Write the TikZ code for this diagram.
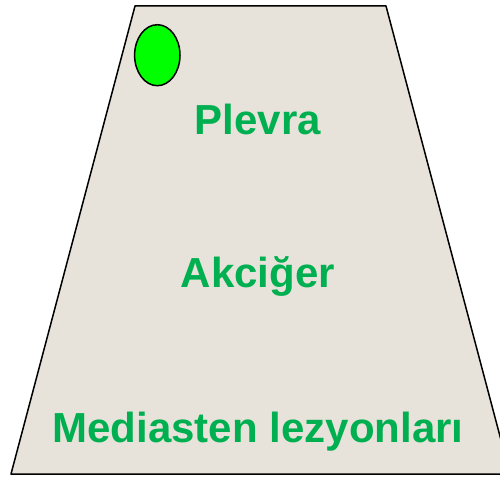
\documentclass[tikz,border=0pt]{standalone}
\usepackage{fontspec}
\setmainfont{Liberation Sans}
\definecolor{paper}{RGB}{231,227,219}
\definecolor{lungreen}{RGB}{0,176,80}
\begin{document}
\begin{tikzpicture}[x=1pt, y=-1pt, line join=round, line cap=round,
    label/.style={anchor=base, text=lungreen, font=\fontsize{42}{48}\selectfont\bfseries, inner sep=0pt}]
	\useasboundingbox (0,0) rectangle (500,476);
	\draw[fill=paper, line width=1.5pt] (135,6)--(386,6)--(510,474)--(11,474)--cycle;
	\draw[fill=green, line width=1.5pt] (157.3,55.2) ellipse [x radius=22.7, y radius=30.5];
	\node[label] (plevra) at (258,135) {Plevra};
	\node[label] (akciger) at (258,287) {Akciğer};
	\node[label] (mediasten) at (258,442) {Mediasten lezyonları};
\end{tikzpicture}
\end{document}
